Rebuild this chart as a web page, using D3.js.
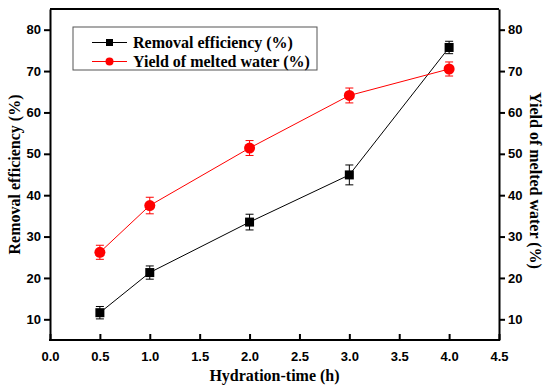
<!DOCTYPE html>
<html>
<head>
<meta charset="utf-8">
<script src="https://cdn.jsdelivr.net/npm/d3@7"></script>
<style>
  body { margin: 0; background: #fff; }
</style>
</head>
<body>
<div id="chart"></div>
<script>
const hours = [0.5, 1.0, 2.0, 3.0, 4.0];
const removal = [11.6, 21.3, 33.5, 44.9, 75.7];
const removalErr = [1.5, 1.6, 1.9, 2.4, 1.5];
const yieldWater = [26.2, 37.5, 51.4, 64.1, 70.5];
const yieldErr = [1.7, 2.0, 1.8, 1.8, 1.7];
const xTicks = [0, 0.5, 1, 1.5, 2, 2.5, 3, 3.5, 4, 4.5];
const yTicks = [10, 20, 30, 40, 50, 60, 70, 80];

const serif = "'Liberation Serif', 'Times New Roman', serif";
const sans = "'Liberation Sans', Arial, sans-serif";

const dimensions = {
  width: 550,
  height: 392,
  margin: { top: 9, bottom: 52, left: 50, right: 51 }
};
dimensions.ctrWidth = dimensions.width - dimensions.margin.left - dimensions.margin.right;
dimensions.ctrHeight = dimensions.height - dimensions.margin.top - dimensions.margin.bottom;

const svg = d3.select('#chart')
  .append('svg')
  .attr('width', dimensions.width)
  .attr('height', dimensions.height);

const ctr = svg.append('g')
  .attr('transform', `translate(${dimensions.margin.left}, ${dimensions.margin.top})`);

// Scales
const xScale = d3.scaleLinear().domain([0, 4.5]).range([0, dimensions.ctrWidth]);
const yScale = d3.scaleLinear().domain([5, 85]).range([dimensions.ctrHeight, 0]);

// Frame top
ctr.append('line')
  .attr('x1', 0).attr('x2', dimensions.ctrWidth)
  .attr('y1', 0).attr('y2', 0)
  .attr('stroke', '#000').attr('stroke-width', 2);

// Axes
const xAxis = d3.axisBottom(xScale)
  .tickValues(xTicks)
  .tickSizeInner(-6).tickSizeOuter(0)
  .tickPadding(12)
  .tickFormat(d3.format('.1f'));
const xAxisGroup = ctr.append('g')
  .attr('transform', `translate(0, ${dimensions.ctrHeight})`)
  .call(xAxis);

const yAxisLeft = d3.axisLeft(yScale).tickValues(yTicks).tickSizeInner(6).tickSizeOuter(0).tickPadding(3);
const yLeftGroup = ctr.append('g').call(yAxisLeft);

const yAxisRight = d3.axisRight(yScale).tickValues(yTicks).tickSizeInner(6).tickSizeOuter(0).tickPadding(3);
const yRightGroup = ctr.append('g')
  .attr('transform', `translate(${dimensions.ctrWidth}, 0)`)
  .call(yAxisRight);

[xAxisGroup, yLeftGroup, yRightGroup].forEach(g => {
  g.attr('font-family', sans).attr('font-size', 13).attr('font-weight', 'bold');
  g.select('.domain').attr('stroke-width', 2);
  g.selectAll('.tick line').attr('stroke-width', 2);
  g.selectAll('.tick text').attr('fill', '#000');
});
xAxisGroup.select('.domain').attr('d', `M-1,0H${dimensions.ctrWidth + 1}`);

// Series
const series = [
  { name: 'Removal efficiency (%)', values: removal, errs: removalErr, color: '#000', shape: 'square' },
  { name: 'Yield of melted water (%)', values: yieldWater, errs: yieldErr, color: '#ff0000', shape: 'circle' }
];

const line = d3.line()
  .x(d => xScale(d.x))
  .y(d => yScale(d.y));

series.forEach(s => {
  const pts = hours.map((h, i) => ({ x: h, y: s.values[i], e: s.errs[i] }));
  const g = ctr.append('g');

  g.append('path')
    .datum(pts)
    .attr('d', line)
    .attr('fill', 'none')
    .attr('stroke', s.color)
    .attr('stroke-width', 1);

  const err = g.selectAll('g.err')
    .data(pts)
    .join('g')
    .attr('stroke', s.color)
    .attr('stroke-width', 1);
  err.append('line')
    .attr('x1', d => xScale(d.x)).attr('x2', d => xScale(d.x))
    .attr('y1', d => yScale(d.y - d.e)).attr('y2', d => yScale(d.y + d.e));
  err.append('line')
    .attr('x1', d => xScale(d.x) - 4).attr('x2', d => xScale(d.x) + 4)
    .attr('y1', d => yScale(d.y + d.e)).attr('y2', d => yScale(d.y + d.e));
  err.append('line')
    .attr('x1', d => xScale(d.x) - 4).attr('x2', d => xScale(d.x) + 4)
    .attr('y1', d => yScale(d.y - d.e)).attr('y2', d => yScale(d.y - d.e));

  if (s.shape === 'square') {
    g.selectAll('rect')
      .data(pts)
      .join('rect')
      .attr('x', d => xScale(d.x) - 4.5)
      .attr('y', d => yScale(d.y) - 4.5)
      .attr('width', 9).attr('height', 9)
      .attr('fill', s.color);
  } else {
    g.selectAll('circle')
      .data(pts)
      .join('circle')
      .attr('cx', d => xScale(d.x))
      .attr('cy', d => yScale(d.y))
      .attr('r', 5.5)
      .attr('fill', s.color);
  }
});

// Legend
const legend = svg.append('g').attr('transform', 'translate(73, 27)');
legend.append('rect')
  .attr('width', 244).attr('height', 43)
  .attr('fill', '#fff')
  .attr('stroke', '#555')
  .attr('stroke-width', 1);
series.forEach((s, i) => {
  const y = 15.5 + i * 19;
  legend.append('line')
    .attr('x1', 19).attr('x2', 54)
    .attr('y1', y).attr('y2', y)
    .attr('stroke', s.color).attr('stroke-width', 1);
  if (s.shape === 'square') {
    legend.append('rect')
      .attr('x', 36.5 - 3.5).attr('y', y - 3.5)
      .attr('width', 7).attr('height', 7)
      .attr('fill', s.color);
  } else {
    legend.append('circle')
      .attr('cx', 36.5).attr('cy', y).attr('r', 4)
      .attr('fill', s.color);
  }
  legend.append('text')
    .attr('x', 60).attr('y', y + 5)
    .attr('font-family', serif)
    .attr('font-weight', 'bold')
    .attr('font-size', 16)
    .text(s.name);
});

// Axis titles
const title = (sel) => sel
  .attr('font-family', serif)
  .attr('font-weight', 'bold')
  .attr('font-size', 16)
  .attr('text-anchor', 'middle');

svg.append('text')
  .call(title)
  .attr('x', dimensions.margin.left + dimensions.ctrWidth / 2)
  .attr('y', 381)
  .text('Hydration-time (h)');

svg.append('text')
  .call(title)
  .attr('transform', `translate(20, ${dimensions.margin.top + dimensions.ctrHeight / 2}) rotate(-90)`)
  .text('Removal efficiency (%)');

svg.append('text')
  .call(title)
  .attr('transform', `translate(530, ${dimensions.margin.top + dimensions.ctrHeight / 2 + 6}) rotate(90)`)
  .text('Yield of melted water (%)');
</script>
</body>
</html>
